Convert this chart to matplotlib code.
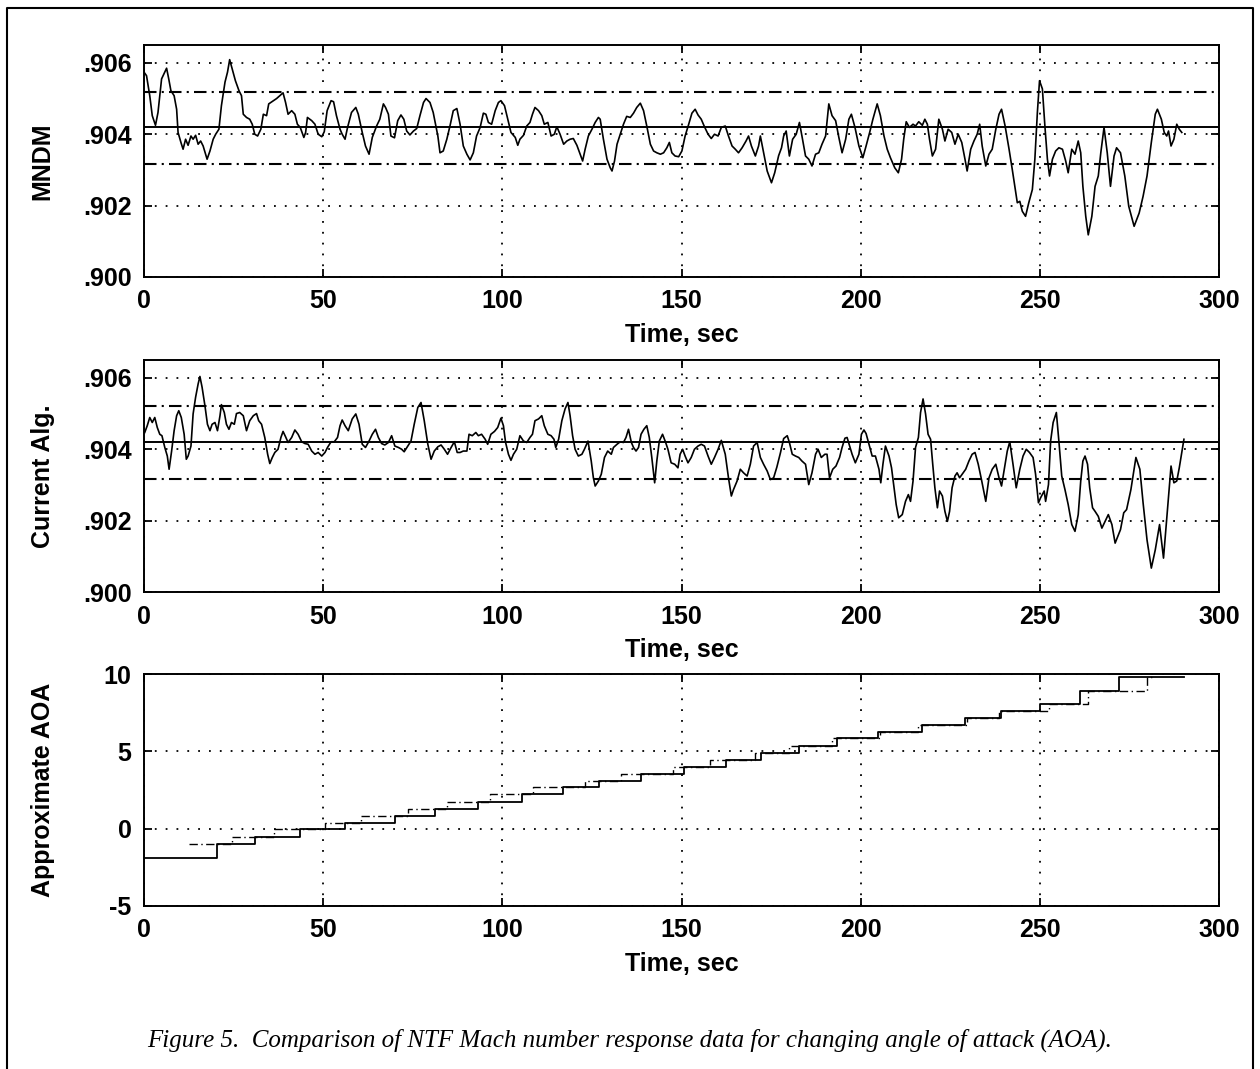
# NTF Mach number response vs changing angle of attack (3 stacked panels)
import numpy as np
import matplotlib.pyplot as plt
from matplotlib.lines import Line2D

# ---- data ----
t_mndm = [0.0, 0.7, 1.6, 2.3, 3.2, 3.9, 4.9, 5.8, 6.3, 6.9, 7.5, 8.4, 9.1, 9.5, 10.3, 10.9,
          11.6, 12.3, 13.1, 13.7, 14.4, 15.1, 15.8, 16.5, 17.2, 17.6, 18.4, 19.3, 20.0, 20.9,
          21.6, 22.6, 23.3, 23.9, 24.6, 25.5, 26.5, 27.2, 27.7, 28.6, 29.5, 30.2, 30.9, 31.7,
          32.6, 33.3, 34.2, 34.8, 36.1, 37.0, 37.9, 38.8, 39.5, 40.2, 41.2, 42.1, 42.8, 43.6,
          44.6, 45.1, 45.6, 46.8, 47.7, 48.6, 49.6, 50.3, 51.1, 52.2, 52.9, 53.7, 54.7, 55.3,
          56.1, 56.8, 57.9, 59.1, 59.8, 60.9, 61.8, 62.8, 63.7, 64.9, 65.8, 66.8, 67.4, 68.2,
          68.9, 69.9, 70.8, 71.7, 72.5, 73.3, 74.2, 75.2, 76.1, 77.0, 78.0, 78.7, 79.8, 80.7,
          82.0, 82.6, 83.5, 84.5, 85.4, 86.3, 87.3, 88.2, 89.1, 90.1, 91.0, 91.9, 92.8, 93.8,
          94.7, 95.4, 96.1, 97.0, 98.0, 98.9, 99.6, 100.6, 101.5, 102.4, 103.6, 104.3, 104.9,
          105.9, 106.8, 107.7, 108.4, 109.1, 110.1, 111.0, 111.7, 112.7, 113.6, 114.5, 115.2,
          116.1, 117.1, 118.0, 118.9, 119.8, 120.8, 121.7, 122.4, 123.1, 124.0, 125.0, 125.9,
          126.8, 127.3, 128.2, 129.2, 130.1, 130.6, 131.3, 132.0, 132.9, 133.8, 134.7, 135.7,
          136.6, 137.5, 138.5, 139.4, 140.3, 141.3, 142.2, 143.1, 144.1, 145.0, 145.9, 146.6,
          147.3, 148.2, 149.2, 150.1, 151.0, 152.0, 152.9, 153.8, 154.6, 155.5, 156.4, 157.4,
          158.3, 159.2, 160.2, 161.1, 162.2, 163.1, 164.1, 165.0, 165.9, 166.9, 168.0, 168.7,
          169.5, 170.6, 171.5, 172.0, 172.9, 173.9, 175.1, 176.0, 177.1, 177.9, 178.5, 179.2,
          180.1, 181.0, 182.0, 182.9, 183.6, 184.6, 185.5, 186.4, 187.4, 188.3, 189.2, 190.2,
          191.1, 192.0, 193.0, 193.9, 194.8, 195.8, 196.7, 197.4, 198.4, 199.5, 200.6, 201.5,
          202.5, 203.4, 204.6, 205.5, 206.5, 207.4, 208.3, 209.5, 210.5, 211.4, 212.0, 212.7,
          213.6, 214.6, 215.3, 216.2, 217.2, 217.9, 218.6, 219.2, 220.0, 220.9, 221.8, 222.8,
          223.5, 224.4, 225.4, 226.3, 227.2, 228.2, 229.1, 229.7, 230.7, 231.6, 232.5, 233.2,
          233.9, 234.9, 235.8, 236.7, 237.7, 238.6, 239.3, 240.3, 241.4, 242.3, 243.0, 243.7,
          244.4, 245.1, 246.0, 246.9, 247.9, 248.6, 249.3, 249.9, 250.7, 251.4, 252.1, 252.7,
          253.5, 254.4, 255.3, 256.3, 257.2, 257.9, 258.9, 259.8, 260.7, 261.4, 262.0, 262.8,
          263.5, 264.5, 265.4, 266.3, 267.0, 267.9, 268.8, 269.7, 270.7, 271.4, 272.5, 273.7,
          274.8, 276.3, 277.7, 278.8, 279.9, 281.1, 282.2, 282.8, 283.9, 284.7, 285.4, 285.9,
          286.6, 287.4, 288.2, 288.9, 289.6]
mndm = [.90574, .90564, .90508, .90452, .90425, .90461, .90555, .90574, .90585, .90555, .90522,
        .90508, .90470, .90405, .90377, .90358, .90386, .90369, .90395, .90386, .90397, .90372,
        .90381, .90367, .90344, .90330, .90353, .90386, .90400, .90414, .90480, .90546, .90574,
        .90609, .90583, .90550, .90522, .90508, .90456, .90447, .90442, .90428, .90400, .90395,
        .90414, .90456, .90452, .90485, .90494, .90500, .90508, .90516, .90489, .90456, .90466,
        .90456, .90428, .90419, .90391, .90405, .90447, .90438, .90428, .90400, .90393, .90407,
        .90466, .90494, .90491, .90452, .90414, .90400, .90386, .90419, .90461, .90475, .90456,
        .90405, .90367, .90344, .90391, .90423, .90442, .90485, .90475, .90456, .90395, .90390,
        .90438, .90454, .90442, .90409, .90398, .90409, .90416, .90452, .90489, .90500, .90489,
        .90461, .90395, .90348, .90353, .90386, .90424, .90466, .90472, .90428, .90367, .90344,
        .90328, .90348, .90395, .90419, .90459, .90456, .90433, .90428, .90466, .90489, .90494,
        .90480, .90442, .90405, .90391, .90369, .90386, .90397, .90423, .90433, .90456, .90475,
        .90466, .90452, .90428, .90433, .90395, .90400, .90421, .90400, .90372, .90381, .90386,
        .90388, .90369, .90344, .90325, .90358, .90395, .90414, .90433, .90447, .90442, .90386,
        .90330, .90306, .90297, .90325, .90372, .90400, .90428, .90450, .90447, .90459, .90475,
        .90487, .90466, .90423, .90372, .90353, .90348, .90344, .90348, .90362, .90377, .90348,
        .90339, .90337, .90353, .90395, .90428, .90459, .90470, .90454, .90442, .90421, .90400,
        .90388, .90400, .90395, .90419, .90423, .90395, .90367, .90358, .90348, .90362, .90381,
        .90395, .90367, .90339, .90367, .90395, .90348, .90297, .90264, .90292, .90340, .90362,
        .90395, .90409, .90339, .90386, .90400, .90433, .90395, .90339, .90330, .90311, .90344,
        .90348, .90372, .90395, .90485, .90452, .90438, .90391, .90348, .90386, .90442, .90456,
        .90419, .90367, .90334, .90367, .90405, .90442, .90485, .90452, .90395, .90358, .90334,
        .90306, .90292, .90330, .90386, .90435, .90419, .90428, .90423, .90435, .90425, .90442,
        .90428, .90386, .90339, .90358, .90442, .90414, .90381, .90414, .90405, .90372, .90400,
        .90377, .90330, .90297, .90358, .90381, .90400, .90428, .90367, .90311, .90344, .90358,
        .90414, .90456, .90470, .90423, .90358, .90301, .90254, .90208, .90212, .90184, .90170,
        .90208, .90245, .90330, .90461, .90550, .90527, .90423, .90330, .90283, .90330, .90353,
        .90362, .90358, .90325, .90292, .90358, .90344, .90381, .90348, .90254, .90170, .90118,
        .90170, .90254, .90283, .90348, .90419, .90348, .90254, .90339, .90362, .90348, .90283,
        .90198, .90142, .90179, .90226, .90283, .90377, .90456, .90470, .90442, .90405, .90395,
        .90409, .90367, .90386, .90428, .90414, .90405]

t_alg = [0.2, 0.9, 1.6, 2.3, 3.0, 3.7, 4.4, 5.0, 5.8, 6.5, 7.0, 7.7, 8.4, 9.1, 9.7, 10.4, 11.2,
         11.8, 12.3, 13.1, 13.7, 14.4, 15.1, 15.6, 16.2, 17.0, 17.7, 18.4, 19.0, 19.8, 20.5, 21.2,
         21.6, 22.4, 23.0, 23.7, 24.4, 25.2, 25.8, 26.7, 27.7, 28.6, 29.5, 30.5, 31.4, 32.0, 32.8,
         33.7, 34.5, 35.1, 35.8, 36.5, 37.4, 38.2, 38.8, 39.5, 40.2, 41.2, 42.1, 43.0, 44.0, 44.9,
         45.8, 46.8, 47.7, 48.6, 49.6, 50.5, 51.2, 52.2, 53.1, 54.0, 54.7, 55.3, 56.1, 57.0, 58.1,
         59.1, 60.0, 60.9, 61.8, 62.8, 63.7, 64.6, 65.4, 66.3, 67.2, 68.2, 69.1, 70.0, 71.0, 71.9,
         72.6, 73.6, 74.5, 75.4, 76.4, 77.3, 78.2, 79.2, 80.1, 81.0, 82.0, 82.9, 83.8, 84.7, 85.7,
         86.6, 87.4, 88.2, 89.1, 90.1, 90.7, 91.6, 92.6, 93.3, 94.2, 95.2, 95.9, 96.8, 97.8, 98.7,
         99.6, 100.3, 100.9, 101.7, 102.4, 103.1, 104.0, 104.9, 105.9, 106.8, 107.7, 108.4, 109.1,
         110.1, 111.0, 111.7, 112.7, 113.6, 114.4, 114.9, 115.7, 116.6, 117.5, 118.3, 118.9,
         119.6, 120.3, 121.2, 122.2, 122.9, 123.9, 124.8, 125.4, 125.9, 126.8, 127.6, 128.5,
         129.4, 130.4, 131.0, 132.0, 132.9, 133.8, 134.5, 135.2, 136.0, 136.6, 137.3, 138.0,
         138.7, 139.5, 140.3, 141.0, 141.7, 142.5, 143.1, 143.8, 144.7, 145.5, 146.2, 147.1,
         148.1, 149.0, 149.6, 150.3, 151.0, 151.8, 152.7, 153.6, 154.6, 155.5, 156.4, 157.4,
         158.3, 159.2, 160.2, 161.1, 162.2, 163.1, 163.9, 164.5, 165.5, 166.4, 167.3, 168.3,
         169.2, 170.1, 171.1, 172.0, 172.9, 173.9, 174.8, 175.7, 176.6, 177.6, 178.5, 179.5,
         180.1, 180.9, 181.8, 182.7, 183.6, 184.6, 185.5, 186.4, 187.4, 188.1, 189.0, 190.0,
         190.6, 191.3, 192.2, 193.1, 194.1, 194.8, 195.6, 196.2, 196.9, 197.6, 198.5, 199.5,
         200.2, 200.9, 201.5, 202.3, 203.2, 204.1, 205.1, 205.6, 206.2, 206.9, 207.9, 208.6,
         209.3, 209.9, 210.6, 211.6, 212.5, 213.3, 213.9, 214.6, 215.3, 216.1, 216.7, 217.4,
         218.1, 218.8, 219.5, 220.1, 220.7, 221.4, 222.0, 222.8, 223.5, 224.2, 224.8, 225.5,
         226.3, 226.9, 227.6, 228.3, 229.3, 230.2, 231.1, 231.9, 232.8, 233.7, 234.9, 235.8,
         236.7, 237.7, 238.6, 239.3, 240.3, 240.9, 241.6, 242.5, 243.4, 244.4, 245.3, 246.2,
         247.1, 248.1, 248.8, 249.6, 250.2, 251.2, 251.6, 252.4, 253.0, 253.7, 254.6, 255.3,
         256.1, 257.0, 257.9, 258.9, 259.8, 260.7, 261.4, 262.0, 262.6, 263.3, 263.9, 264.7,
         265.4, 266.3, 267.3, 268.2, 269.1, 270.1, 271.0, 272.5, 273.4, 274.2, 275.4, 276.8,
         277.9, 278.8, 279.9, 281.1, 282.2, 283.4, 284.5, 285.6, 286.6, 287.4, 288.2, 288.9, 290.2]
alg = [.90447, .90466, .90489, .90475, .90489, .90461, .90442, .90438, .90405, .90381, .90344,
       .90395, .90452, .90494, .90508, .90489, .90442, .90372, .90381, .90409, .90499, .90546,
       .90583, .90604, .90574, .90522, .90470, .90452, .90470, .90475, .90452, .90494, .90525,
       .90503, .90470, .90456, .90475, .90470, .90500, .90503, .90494, .90452, .90480, .90494,
       .90500, .90480, .90470, .90433, .90386, .90360, .90377, .90391, .90400, .90433, .90450,
       .90435, .90419, .90433, .90454, .90442, .90421, .90416, .90414, .90395, .90386, .90391,
       .90381, .90391, .90405, .90421, .90421, .90433, .90466, .90482, .90466, .90452, .90485,
       .90499, .90470, .90414, .90405, .90423, .90442, .90456, .90433, .90416, .90412, .90419,
       .90438, .90409, .90405, .90400, .90393, .90409, .90423, .90470, .90517, .90531, .90480,
       .90414, .90372, .90395, .90407, .90412, .90400, .90386, .90405, .90421, .90391, .90391,
       .90395, .90395, .90442, .90438, .90447, .90438, .90442, .90428, .90414, .90442, .90450,
       .90461, .90487, .90466, .90419, .90386, .90369, .90386, .90400, .90438, .90423, .90419,
       .90433, .90442, .90480, .90485, .90494, .90466, .90442, .90438, .90428, .90405, .90428,
       .90480, .90513, .90531, .90494, .90438, .90400, .90381, .90386, .90400, .90423, .90367,
       .90320, .90297, .90311, .90330, .90377, .90395, .90386, .90405, .90414, .90421, .90419,
       .90433, .90456, .90419, .90405, .90395, .90405, .90442, .90456, .90466, .90433, .90377,
       .90306, .90367, .90423, .90442, .90421, .90400, .90362, .90358, .90348, .90386, .90400,
       .90381, .90362, .90377, .90400, .90409, .90414, .90409, .90381, .90358, .90377, .90400,
       .90425, .90386, .90320, .90269, .90287, .90311, .90344, .90334, .90325, .90358, .90409,
       .90419, .90377, .90358, .90339, .90315, .90320, .90350, .90390, .90430, .90438, .90419,
       .90386, .90381, .90377, .90367, .90358, .90301, .90334, .90386, .90400, .90377, .90386,
       .90386, .90320, .90344, .90353, .90377, .90405, .90431, .90433, .90409, .90386, .90362,
       .90386, .90442, .90454, .90444, .90414, .90381, .90381, .90344, .90306, .90358, .90409,
       .90381, .90348, .90292, .90245, .90208, .90217, .90254, .90273, .90254, .90311, .90405,
       .90433, .90503, .90541, .90499, .90442, .90428, .90358, .90292, .90236, .90283, .90269,
       .90226, .90198, .90226, .90292, .90325, .90334, .90320, .90330, .90344, .90367, .90386,
       .90391, .90358, .90315, .90254, .90320, .90344, .90358, .90320, .90297, .90358, .90395,
       .90421, .90358, .90292, .90344, .90381, .90400, .90391, .90377, .90330, .90250, .90264,
       .90283, .90254, .90301, .90423, .90475, .90503, .90423, .90325, .90287, .90245, .90189,
       .90170, .90217, .90311, .90367, .90381, .90358, .90292, .90236, .90226, .90212, .90179,
       .90198, .90217, .90189, .90137, .90175, .90222, .90231, .90287, .90377, .90344, .90250,
       .90146, .90067, .90118, .90189, .90095, .90231, .90353, .90306, .90311, .90348, .90428]

# mean and +/- band drawn on the two Mach panels
mndm_lines = [.90317, .90419, .90519]
alg_lines = [.90317, .90419, .90520]

# approximate AOA staircases (step start times and levels)
aoa_t = [0, 20.3, 31.0, 43.5, 56.0, 70.0, 81.1, 93.3, 105.4, 117.0, 127.1, 138.6, 150.6,
         162.3, 172.2, 182.7, 193.5, 204.7, 217.2, 229.0, 239.2, 250.0, 261.1, 272.2, 290.2]
aoa_v = [-1.92, -0.99, -0.55, 0.0, 0.38, 0.82, 1.25, 1.75, 2.22, 2.72, 3.08, 3.54, 3.97,
         4.45, 4.88, 5.34, 5.84, 6.27, 6.70, 7.13, 7.61, 8.06, 8.92, 9.83, 9.83]
aoa2_t = [12.5, 24.5, 36.3, 50.5, 60.5, 73.7, 84.5, 96.5, 108.5, 123.0, 133.0, 147.5, 158.0,
          170.5, 180.0, 192.0, 205.5, 216.0, 229.7, 238.5, 252.5, 263.5, 280.0, 282.0]
aoa2_v = [-1.0, -0.55, 0.0, 0.38, 0.82, 1.25, 1.75, 2.22, 2.72, 3.08, 3.54, 3.97, 4.45,
          4.88, 5.34, 5.84, 6.27, 6.70, 7.13, 7.61, 8.06, 8.92, 9.83, 9.83]

mach_ticks = [.900, .902, .904, .906]
mach_labels = ['.900', '.902', '.904', '.906']
aoa_ticks = [-5, 0, 5, 10]
x_ticks = [0, 50, 100, 150, 200, 250, 300]

plt.rcParams['font.family'] = ['Liberation Sans', 'DejaVu Sans']
plt.rcParams['font.weight'] = 'bold'
plt.rcParams['axes.unicode_minus'] = False

fig = plt.figure(figsize=(12.6, 10.69), dpi=100)

dashdot = (0, (6, 2.5, 1, 2.5))
gridstyle = (0, (1, 5))
fs = 18


def style_axes(ax, ylabel):
    ax.set_xlim(0, 300)
    ax.set_xticks(x_ticks)
    ax.grid(True, linestyle=gridstyle, color='black', linewidth=1.3)
    ax.tick_params(direction='in', top=True, right=True, length=6, width=1.3,
                   labelsize=fs, pad=9)
    for sp in ax.spines.values():
        sp.set_linewidth(1.4)
    ax.set_xlabel('Time, sec', fontsize=fs, fontweight='bold', labelpad=7)
    ax.set_ylabel(ylabel, fontsize=fs, fontweight='bold')
    ax.yaxis.set_label_coords(-0.083, 0.5)


# panel 1: MNDM
ax1 = fig.add_axes([0.1143, 0.7409, 0.8532, 0.2170])
ax1.plot(t_mndm, mndm, color='black', linewidth=1.2)
ax1.axhline(mndm_lines[1], color='black', linewidth=1.4)
ax1.axhline(mndm_lines[0], color='black', linewidth=1.5, linestyle=dashdot)
ax1.axhline(mndm_lines[2], color='black', linewidth=1.5, linestyle=dashdot)
ax1.set_ylim(0.900, 0.9065)
ax1.set_yticks(mach_ticks)
ax1.set_yticklabels(mach_labels)
style_axes(ax1, 'MNDM')

# panel 2: current algorithm
ax2 = fig.add_axes([0.1143, 0.4462, 0.8532, 0.2170])
ax2.plot(t_alg, alg, color='black', linewidth=1.2)
ax2.axhline(alg_lines[1], color='black', linewidth=1.4)
ax2.axhline(alg_lines[0], color='black', linewidth=1.5, linestyle=dashdot)
ax2.axhline(alg_lines[2], color='black', linewidth=1.5, linestyle=dashdot)
ax2.set_ylim(0.900, 0.9065)
ax2.set_yticks(mach_ticks)
ax2.set_yticklabels(mach_labels)
style_axes(ax2, 'Current Alg.')

# panel 3: approximate AOA
ax3 = fig.add_axes([0.1143, 0.1525, 0.8532, 0.2170])
ax3.step(aoa2_t, aoa2_v, where='post', color='black', linewidth=1.0, linestyle=dashdot)
ax3.step(aoa_t, aoa_v, where='post', color='black', linewidth=1.3)
ax3.set_ylim(-5, 10)
ax3.set_yticks(aoa_ticks)
style_axes(ax3, 'Approximate AOA')

# page frame (open at the bottom) and caption
x0, x1, ytop = 7 / 1260, 1253 / 1260, 1 - 8 / 1069
fig.add_artist(Line2D([x0, x0, x1, x1], [0, ytop, ytop, 0], transform=fig.transFigure,
                      color='black', linewidth=1.5))
fig.text(0.5, 0.027, 'Figure 5.  Comparison of NTF Mach number response data for changing '
         'angle of attack (AOA).', ha='center', va='center', fontsize=18,
         family=['Liberation Serif', 'DejaVu Serif'], style='italic', fontweight='normal')

plt.savefig('out.png', dpi=100)
